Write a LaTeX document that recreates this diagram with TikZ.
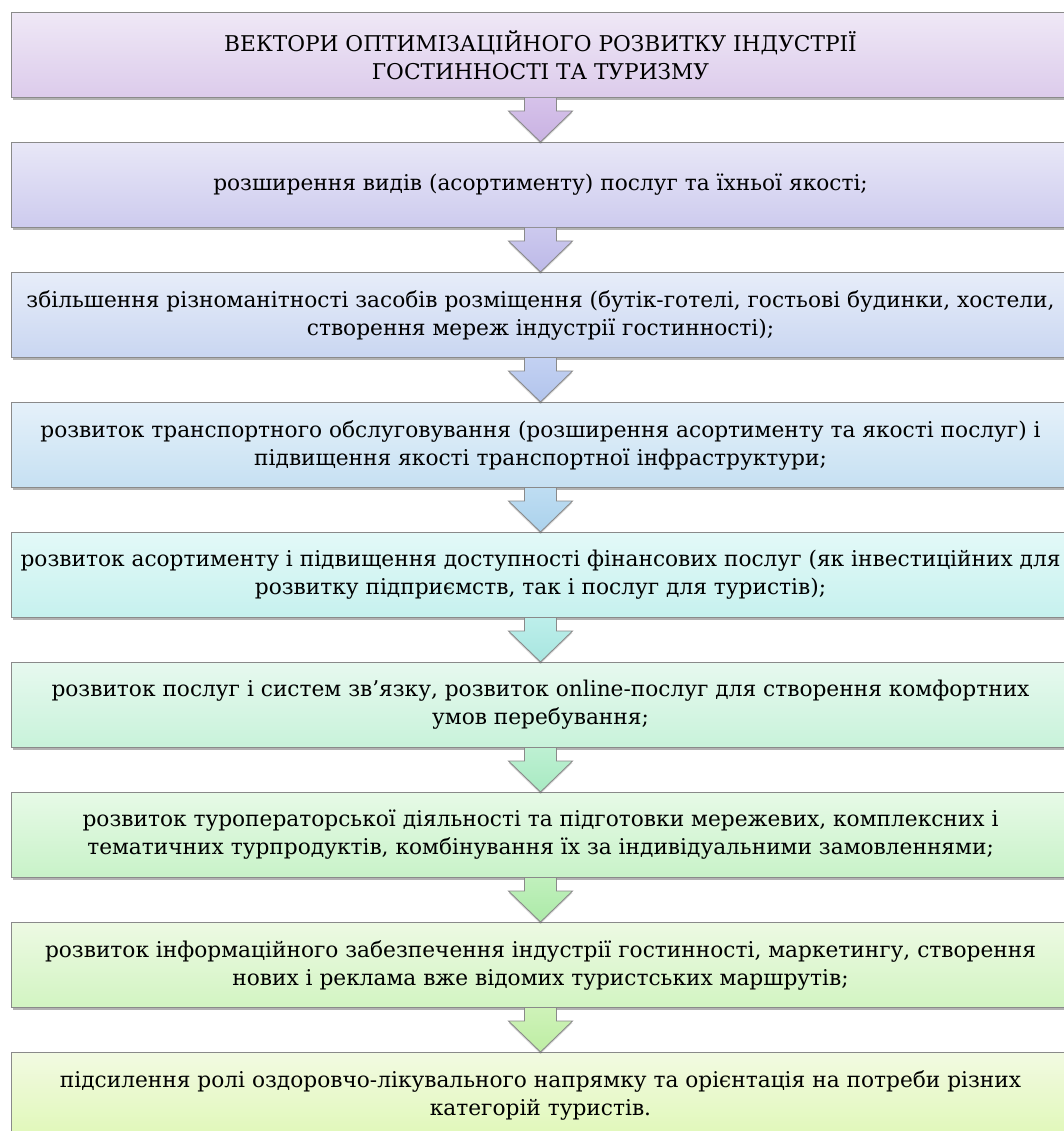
\documentclass[tikz,border=0pt]{standalone}
\usepackage{fontspec}
\setmainfont{DejaVu Serif}
\newfontfamily\boxfont{DejaVu Serif}
\usetikzlibrary{calc,shadows}
\definecolor{bordergray}{HTML}{8A8A8A}
\definecolor{t1}{HTML}{EFE8F6}\definecolor{u1}{HTML}{DCCBEB}
\definecolor{t2}{HTML}{E8E7F7}\definecolor{u2}{HTML}{CDCBEE}
\definecolor{t3}{HTML}{E7EDF9}\definecolor{u3}{HTML}{C9D6F1}
\definecolor{t4}{HTML}{E5F1FA}\definecolor{u4}{HTML}{C6E0F2}
\definecolor{t5}{HTML}{E3F9F8}\definecolor{u5}{HTML}{C6F1EE}
\definecolor{t6}{HTML}{E7F9EF}\definecolor{u6}{HTML}{C8F2DA}
\definecolor{t7}{HTML}{E7FAE7}\definecolor{u7}{HTML}{C8F2C8}
\definecolor{t8}{HTML}{EDFAE3}\definecolor{u8}{HTML}{D2F4C2}
\definecolor{t9}{HTML}{F2FAE2}\definecolor{u9}{HTML}{E0F8B8}
\definecolor{a1}{HTML}{D6C2EA}\definecolor{b1}{HTML}{C9B2E2}
\definecolor{a2}{HTML}{CCC9EE}\definecolor{b2}{HTML}{BDB9E8}
\definecolor{a3}{HTML}{C3D1F2}\definecolor{b3}{HTML}{B2C4EC}
\definecolor{a4}{HTML}{BEDDF2}\definecolor{b4}{HTML}{ABD2EC}
\definecolor{a5}{HTML}{BCEEEA}\definecolor{b5}{HTML}{A8E6E0}
\definecolor{a6}{HTML}{BDF0D2}\definecolor{b6}{HTML}{A8EAC2}
\definecolor{a7}{HTML}{C0F0BC}\definecolor{b7}{HTML}{ACEAA8}
\definecolor{a8}{HTML}{CEF2B8}\definecolor{b8}{HTML}{BEEEA4}
\tikzset{
  vbox/.style={draw=bordergray, line width=1pt, minimum width=1058pt,
    minimum height=85pt, inner sep=0pt, align=center, anchor=north west,
    font=\boxfont\fontsize{21.7}{28}\selectfont,
    drop shadow={shadow xshift=1.5pt, shadow yshift=-2.5pt, opacity=0.3, fill=black}},
  varrow/.style={draw=bordergray, line width=0.9pt, line join=miter,
    drop shadow={shadow xshift=0pt, shadow yshift=-2pt, opacity=0.15, fill=black}}
}
\begin{document}
\begin{tikzpicture}[x=1pt,y=-1pt]
\useasboundingbox (0,0) rectangle (1064,1131);
\fill[white] (0,0) rectangle (1064,1131);
\node[vbox, top color=t1, bottom color=u1] (n1) at (11,12)
  {ВЕКТОРИ ОПТИМІЗАЦІЙНОГО РОЗВИТКУ ІНДУСТРІЇ\\ГОСТИННОСТІ ТА ТУРИЗМУ};
\node[vbox, top color=t2, bottom color=u2] (n2) at (11,142)
  {розширення видів (асортименту) послуг та їхньої якості;};
\node[vbox, top color=t3, bottom color=u3] (n3) at (11,272)
  {збільшення різноманітності засобів розміщення (бутік-готелі, гостьові будинки, хостели,\\створення мереж індустрії гостинності);};
\node[vbox, top color=t4, bottom color=u4] (n4) at (11,402)
  {розвиток транспортного обслуговування (розширення асортименту та якості послуг) і\\підвищення якості транспортної інфраструктури;};
\node[vbox, top color=t5, bottom color=u5] (n5) at (11,532)
  {розвиток асортименту і підвищення доступності фінансових послуг (як інвестиційних для\\розвитку підприємств, так і послуг для туристів);};
\node[vbox, top color=t6, bottom color=u6] (n6) at (11,662)
  {розвиток послуг і систем зв’язку, розвиток online-послуг для створення комфортних\\умов перебування;};
\node[vbox, top color=t7, bottom color=u7] (n7) at (11,792)
  {розвиток туроператорської діяльності та підготовки мережевих, комплексних і\\тематичних турпродуктів, комбінування їх за індивідуальними замовленнями;};
\node[vbox, top color=t8, bottom color=u8] (n8) at (11,922)
  {розвиток інформаційного забезпечення індустрії гостинності, маркетингу, створення\\нових і реклама вже відомих туристських маршрутів;};
\node[vbox, top color=t9, bottom color=u9] (n9) at (11,1052)
  {підсилення ролі оздоровчо-лікувального напрямку та орієнтація на потреби різних\\категорій туристів.};
\foreach \i/\j in {1/2,2/3,3/4,4/5,5/6,6/7,7/8,8/9}{
  \draw[varrow, top color=a\i, bottom color=b\i]
    ($(n\i.south)+(-16,0)$) -- ($(n\j.north)+(-16,-31)$) -- ($(n\j.north)+(-32,-31)$)
    -- (n\j.north) -- ($(n\j.north)+(32,-31)$) -- ($(n\j.north)+(16,-31)$)
    -- ($(n\i.south)+(16,0)$);
}
\end{tikzpicture}
\end{document}
